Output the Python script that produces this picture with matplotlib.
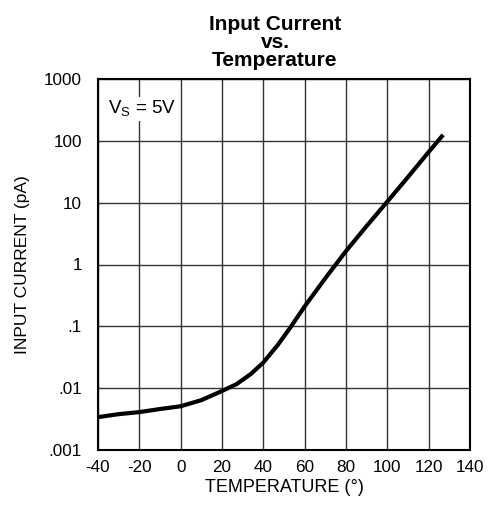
import matplotlib
matplotlib.use("Agg")
import matplotlib.pyplot as plt

# data
temp = [-40, -30, -20, -10, 0, 10, 20, 27, 34, 40, 47, 53, 60, 70, 80, 90,
        100, 110, 120, 127]
current = [0.0034, 0.0038, 0.0041, 0.0046, 0.0051, 0.0064, 0.009, 0.0116,
           0.017, 0.026, 0.05, 0.095, 0.21, 0.6, 1.65, 4.2, 10.4, 26, 66, 125]

xticks = [-40, -20, 0, 20, 40, 60, 80, 100, 120, 140]
yticks = [0.001, 0.01, 0.1, 1, 10, 100, 1000]
ylabels = [".001", ".01", ".1", "1", "10", "100", "1000"]

plt.rcParams['font.family'] = ['Liberation Sans', 'DejaVu Sans']

fig = plt.figure(figsize=(4.92, 5.16), dpi=100)
ax = fig.add_axes([98/492, 1 - 450/516, 372/492, 371/516])

ax.plot(temp, current, color='black', lw=3, solid_capstyle='butt',
        solid_joinstyle='round')
ax.set_yscale('log')
ax.set_xlim(-40, 140)
ax.set_ylim(0.001, 1000)
ax.set_xticks(xticks)
ax.set_xticklabels([str(t) for t in xticks], fontsize=12.3)
ax.set_yticks(yticks)
ax.set_yticklabels(ylabels, fontsize=12.3)
ax.minorticks_off()
ax.tick_params(axis='x', length=0, pad=7)
ax.tick_params(axis='y', length=0, pad=11.5)
ax.grid(True, color='#333333', lw=1)
for s in ax.spines.values():
    s.set_linewidth(1.5)

ax.set_xlabel("TEMPERATURE (°)", fontsize=13, labelpad=3)
ax.set_ylabel("INPUT CURRENT (pA)", fontsize=12.5, labelpad=10)

ax.text(-35, 330, r"V$_\mathregular{S}$ = 5V", fontsize=13.5, va='center', ha='left',
        bbox=dict(facecolor='white', edgecolor='none', pad=1.5))

fig.text(275/492, 1 - 70/516, "Input Current\nvs.\nTemperature", ha='center', va='bottom',
         fontsize=15, fontweight='bold', linespacing=0.95)

fig.savefig("out.png", dpi=100)
